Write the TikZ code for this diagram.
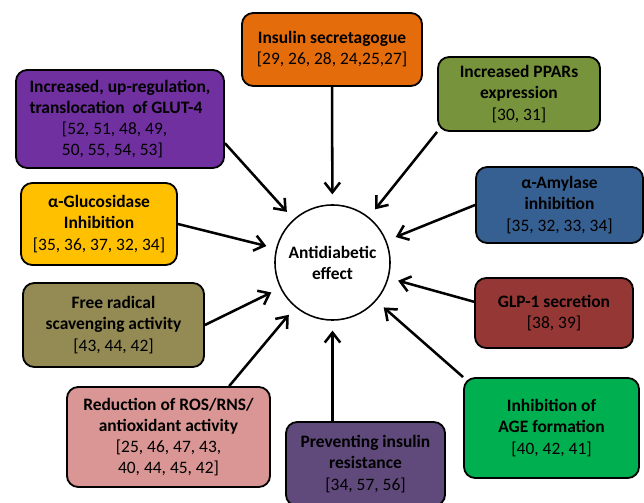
\documentclass[tikz,border=0pt]{standalone}
\usepackage{fontspec}
\setmainfont{Carlito}
\usetikzlibrary{arrows.meta}
\definecolor{insorange}{HTML}{E46C0A}
\definecolor{pparolive}{HTML}{77933C}
\definecolor{amylblue}{HTML}{376092}
\definecolor{glpred}{HTML}{953735}
\definecolor{agegreen}{HTML}{00B050}
\definecolor{prevpurple}{HTML}{604A7B}
\definecolor{rospink}{HTML}{D99694}
\definecolor{freekhaki}{HTML}{948A54}
\definecolor{glucyellow}{HTML}{FFC000}
\definecolor{glutpurple}{HTML}{7030A0}
\begin{document}
\begin{tikzpicture}[x=0.025cm, y=-0.025cm,
  box/.style={draw=black, line width=1.3pt, rounded corners=8pt, align=center,
    inner sep=2pt, font=\fontsize{12.4}{15}\selectfont},
  arr/.style={-{Straight Barb[length=7pt,width=11pt]}, line width=1.8pt, shorten >=7pt}]
  \useasboundingbox (0,0) rectangle (644,503);
  % centre
  \node[draw, circle, line width=1.1pt, minimum size=2.875cm, align=center,
    font=\fontsize{12.4}{15}\selectfont\bfseries] at (332.5,262.5) (ae) {Antidiabetic\\effect};
  % mechanisms
  \node[box, fill=insorange, minimum width=4.5cm, minimum height=1.825cm] at (332,49.5) (ins)
    {\textbf{Insulin secretagogue}\\{}[29, 26, 28, 24,25,27]};
  \node[box, fill=pparolive, minimum width=4.05cm, minimum height=1.85cm] at (519,94) (ppar)
    {\textbf{Increased PPARs}\\\textbf{expression}\\{}[30, 31]};
  \node[box, fill=amylblue, minimum width=4.175cm, minimum height=1.9cm] at (559.5,205) (amyl)
    {\textbf{α-Amylase}\\\textbf{inhibition}\\{}[35, 32, 33, 34]};
  \node[box, fill=glpred, minimum width=3.95cm, minimum height=1.75cm] at (554,313) (glp)
    {\textbf{GLP-1 secretion}\\{}[38, 39]};
  \node[box, fill=agegreen, minimum width=4.375cm, minimum height=2.5cm] at (551.5,428) (age)
    {\textbf{Inhibition of}\\\textbf{AGE formation}\\{}[40, 42, 41]};
  \node[box, fill=prevpurple, minimum width=3.975cm, minimum height=2.1cm] at (365.5,464) (prev)
    {\textbf{Preventing insulin}\\\textbf{resistance}\\{}[34, 57, 56]};
  \node[box, fill=rospink, minimum width=5.075cm, minimum height=2.5cm] at (168.5,437) (ros)
    {\textbf{Reduction of ROS/RNS/}\\\textbf{antioxidant activity}\\{}[25, 46, 47, 43,\\40, 44, 45, 42]};
  \node[box, fill=freekhaki, minimum width=4.525cm, minimum height=2.1cm] at (113.5,325) (free)
    {\textbf{Free radical}\\\textbf{scavenging activity}\\{}[43, 44, 42]};
  \node[box, fill=glucyellow, minimum width=3.9cm, minimum height=2.05cm] at (99,224) (gluc)
    {\textbf{α-Glucosidase}\\\textbf{Inhibition}\\{}[35, 36, 37, 32, 34]};
  \node[box, fill=glutpurple, align=left, minimum width=5.2cm, minimum height=2.45cm] at (120,119) (glut)
    {\textbf{Increased, up-regulation,}\\\textbf{translocation\ \ of GLUT-4}\\\hspace*{23pt}[52, 51, 48, 49,\\\hspace*{23pt}50, 55, 54, 53]};
  % arrows into the effect
  \draw[arr] (ins) -- (ae);
  \draw[arr] (ppar.south west) -- (ae);
  \draw[arr] (amyl.west) -- (ae);
  \draw[arr] (glp.172) -- (ae);
  \draw[arr] (age.north west) -- (ae);
  \draw[arr] (ae |- prev.north) -- (ae);
  \draw[arr] (ros.40) -- (ae);
  \draw[arr] (free.east) -- (ae);
  \draw[arr] (gluc.east) -- (ae);
  \draw[arr] (glut.-13) -- (ae);
\end{tikzpicture}
\end{document}
